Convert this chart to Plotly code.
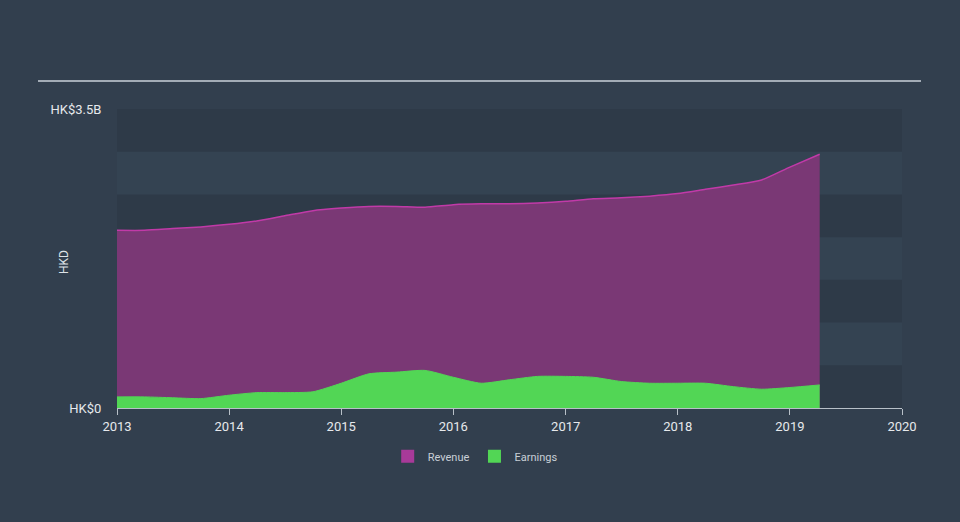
import plotly.graph_objects as go

dates = ["2013-01-01", "2013-04-01", "2013-07-01", "2013-10-01",
         "2014-01-01", "2014-04-01", "2014-07-01", "2014-10-01",
         "2015-01-01", "2015-04-01", "2015-07-01", "2015-10-01",
         "2016-01-01", "2016-04-01", "2016-07-01", "2016-10-01",
         "2017-01-01", "2017-04-01", "2017-07-01", "2017-10-01",
         "2018-01-01", "2018-04-01", "2018-07-01", "2018-10-01",
         "2019-01-01", "2019-04-08"]
revenue_b = [2.08, 2.08, 2.10, 2.12, 2.15, 2.19, 2.25, 2.31, 2.34, 2.36, 2.36, 2.35,
             2.38, 2.39, 2.39, 2.40, 2.42, 2.45, 2.46, 2.48, 2.51, 2.56, 2.61, 2.67,
             2.82, 2.97]
earnings_b = [0.13, 0.13, 0.12, 0.11, 0.15, 0.18, 0.18, 0.19, 0.29, 0.40, 0.42, 0.44,
              0.36, 0.29, 0.33, 0.37, 0.37, 0.36, 0.31, 0.29, 0.29, 0.29, 0.25, 0.22,
              0.24, 0.27]
year_ticks = ["2013", "2014", "2015", "2016", "2017", "2018", "2019", "2020"]
y_ticks = [0, 3.5e9]
y_tick_labels = ["HK$0", "HK$3.5B"]

revenue = [v * 1e9 for v in revenue_b]
earnings = [v * 1e9 for v in earnings_b]

fig = go.Figure()
fig.add_trace(go.Scatter(x=dates, y=revenue, name="Revenue", mode="lines", showlegend=False,
                         line=dict(color="#c13aa8", width=1.5, shape="spline", smoothing=0.6),
                         fill="tozeroy", fillcolor="#7a3875", hoverinfo="skip"))
fig.add_trace(go.Scatter(x=dates, y=earnings, name="Earnings", mode="lines", showlegend=False,
                         line=dict(color="#52d655", width=1, shape="spline", smoothing=0.6),
                         fill="tozeroy", fillcolor="#52d655", hoverinfo="skip"))
# legend swatches
fig.add_trace(go.Scatter(x=[None], y=[None], name="Revenue", mode="markers",
                         marker=dict(symbol="square", size=13, color="#a83a99")))
fig.add_trace(go.Scatter(x=[None], y=[None], name="Earnings", mode="markers",
                         marker=dict(symbol="square", size=13, color="#52d655")))

shapes = []
for lo in [0, 1.0e9, 2.0e9, 3.0e9]:
    shapes.append(dict(type="rect", xref="paper", yref="y", x0=0, x1=1, y0=lo, y1=lo + 0.5e9,
                       fillcolor="#2e3a48", line=dict(width=0), layer="below"))
shapes.append(dict(type="line", xref="paper", yref="paper",
                   x0=(38 - 117) / 785, x1=(921 - 117) / 785, y0=1 + 28 / 299, y1=1 + 28 / 299,
                   line=dict(color="#a3acb6", width=2)))

fig.update_layout(
    width=960, height=522,
    margin=dict(l=117, r=58, t=109, b=114, autoexpand=False),
    paper_bgcolor="#323f4e", plot_bgcolor="#344352",
    font=dict(family="Roboto, Open Sans, sans-serif", color="#dde2e7", size=12),
    shapes=shapes,
    showlegend=True,
    legend=dict(orientation="h", xref="container", yref="container", x=0.495, y=0.126,
                xanchor="center", yanchor="middle", font=dict(size=11, color="#c8cfd6"),
                bgcolor="rgba(0,0,0,0)", itemwidth=30),
    xaxis=dict(type="date", range=["2013-01-01", "2020-01-01"],
               tickvals=[f"{y}-01-01" for y in year_ticks], ticktext=year_ticks,
               showgrid=False, zeroline=False, showline=True, linecolor="#b8c0c8", linewidth=1,
               ticks="outside", ticklen=6, tickcolor="#b8c0c8", tickfont=dict(size=13, color="#e6e9ec")),
    yaxis=dict(range=[0, 3.5e9], tickvals=y_ticks, ticktext=y_tick_labels,
               showgrid=False, zeroline=False, showline=False,
               ticks="outside", ticklen=12, tickcolor="rgba(0,0,0,0)",
               tickfont=dict(size=13, color="#e6e9ec")),
    annotations=[dict(text="HKD", xref="paper", yref="paper", x=(55 - 117) / 785, y=(408 - 262) / 299,
                      showarrow=False, textangle=-90, font=dict(size=12, color="#dde2e7"))],
)

fig.write_html("out.html")
